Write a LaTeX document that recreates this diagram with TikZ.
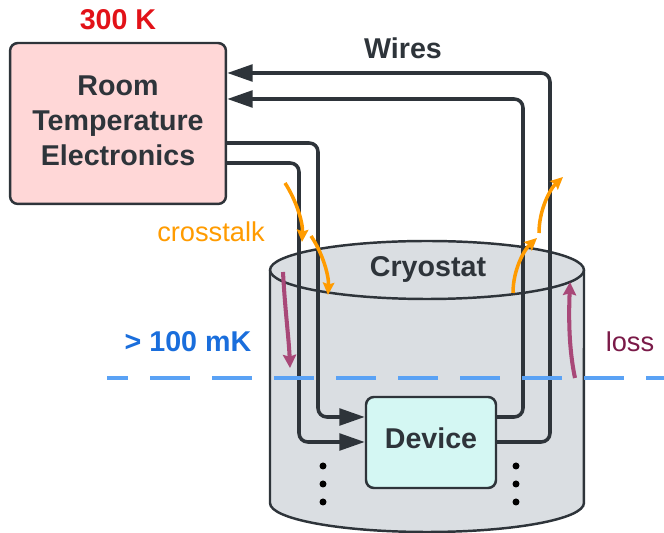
\documentclass[tikz,border=0pt]{standalone}
\usepackage{fontspec}
\setmainfont{Liberation Sans}
\usetikzlibrary{arrows.meta}
\definecolor{ink}{RGB}{46,52,58}
\definecolor{roomfill}{RGB}{255,215,215}
\definecolor{cryofill}{RGB}{218,222,226}
\definecolor{devfill}{RGB}{212,247,243}
\definecolor{hotred}{RGB}{226,18,24}
\definecolor{coldblue}{RGB}{26,110,220}
\definecolor{dashblue}{RGB}{90,162,245}
\definecolor{xtalk}{RGB}{255,155,0}
\definecolor{lossarrow}{RGB}{168,72,120}
\definecolor{losstext}{RGB}{122,26,72}

\begin{document}
\begin{tikzpicture}[x=0.02cm,y=-0.02cm,font=\fontsize{16.3}{19.8}\selectfont\bfseries]
\tikzstyle{box}=[draw=ink,line width=1.4pt,rounded corners=4.5pt,text=ink,align=center]
\tikzstyle{wire}=[draw=ink,line width=2pt,rounded corners=5pt,-{Triangle[length=14.5pt,width=9.5pt]}]
\tikzstyle{xt}=[xtalk,line width=2pt,-{Stealth[length=7pt,width=6.5pt,inset=1pt]}]
\tikzstyle{ls}=[lossarrow,line width=2.3pt,-{Stealth[length=7.5pt,width=7.5pt,inset=1pt]}]
\useasboundingbox (0,0) rectangle (664,533);
% cryostat
\filldraw[fill=cryofill,draw=ink,line width=1.4pt] (270,270) -- (270,503) arc[start angle=180,end angle=360,x radius=3.14cm,y radius=0.58cm] -- (584,270);
\filldraw[fill=cryofill,draw=ink,line width=1.4pt] (427,270) ellipse[x radius=3.14cm,y radius=0.58cm];
\node[text=ink] (cryo) at (428,269) {Cryostat};
\node[box,fill=roomfill,minimum width=4.32cm,minimum height=3.22cm,text depth=3.4pt] (rte) at (118,123.5) {Room\\Temperature\\Electronics};
\node[box,fill=devfill,minimum width=2.6cm,minimum height=1.82cm,text depth=5pt] (dev) at (431,442.5) {Device};
\node[text=hotred] (hot) at (118,20) {300 K};
\node[text=ink] (wires) at (403,48) {Wires};
\node[text=coldblue] (cold) at (188,342) {> 100 mK};
\node[text=xtalk,font=\fontsize{15.5}{18}\selectfont] (ct) at (211,232) {crosstalk};
\node[text=losstext,font=\fontsize{15.5}{18}\selectfont] (loss) at (630,342) {loss};
% wires
\draw[wire] (rte.east |- 0,143) -| (318,417) -- (dev.west |- 0,417);
\draw[wire] (rte.east |- 0,163) -| (299,442) -- (dev.west |- 0,442);
\draw[wire] (dev.east |- 0,417) -| (523,99) -- (rte.east |- 0,99);
\draw[wire] (dev.east |- 0,442) -| (550,73) -- (rte.east |- 0,73);
\foreach \y in {466,484,502} {
  \fill (323,\y) circle (0.07cm);
  \fill (516,\y) circle (0.07cm);
}
\draw[dashblue,line width=2.3pt,dash pattern=on 22.7pt off 12.6pt,dash phase=10.8pt] (107,378) -- (664,378);
% crosstalk and loss
\draw[xt] (285,183) .. controls (296,200) and (303,222) .. (302,242);
\draw[xt] (311,236) .. controls (322,252) and (329,275) .. (328,295);
\draw[xt] (513,293) .. controls (513,270) and (524,250) .. (537,238);
\draw[xt] (539,233) .. controls (539,210) and (550,189) .. (563,177);
\draw[ls] (283,272) .. controls (285,310) and (289,340) .. (290,368);
\draw[ls] (575,378) .. controls (568,345) and (569,310) .. (570,282);
\end{tikzpicture}
\end{document}
